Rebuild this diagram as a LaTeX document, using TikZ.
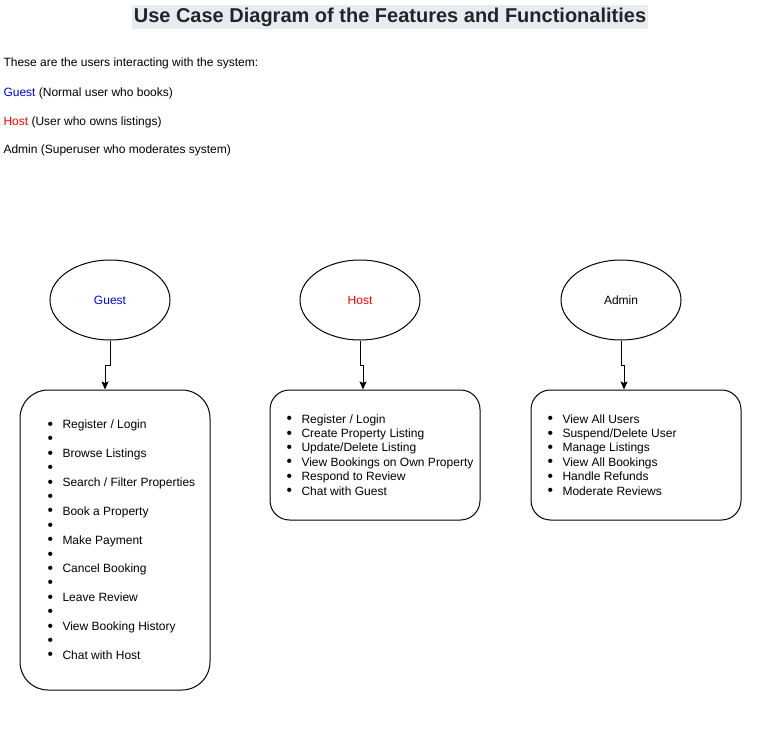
\documentclass[tikz,border=0pt]{standalone}
\usepackage{fontspec}
\setmainfont{Liberation Sans}
\usepackage{graphicx}
\usepackage{tikz}
\usetikzlibrary{shapes.geometric, arrows, arrows.meta, positioning, calc}
\definecolor{ucblue}{RGB}{0,0,255}
\definecolor{ucred}{RGB}{255,0,0}
\definecolor{uctitlebg}{RGB}{233,236,239}
\definecolor{uctitle}{RGB}{33,37,41}
\newcommand{\ucfont}{\fontsize{12}{14.4}\selectfont}
\newcommand{\ucbullet}{\raisebox{-0.6pt}{\scalebox{1.3}{\textbullet}}}
\newcommand{\ucitem}[1]{\makebox[15pt][l]{\ucbullet}#1}

\begin{document}
\begin{tikzpicture}[x=1pt, y=-1pt, line width=1pt,
  actor/.style={draw, ellipse, minimum width=120, minimum height=80, inner sep=0pt, font=\ucfont},
  featurebox/.style={draw, rectangle, rounded corners=#1},
  featurelist/.style={align=left, inner sep=0pt, font=\ucfont},
  note/.style={anchor=base west, inner sep=0pt, font=\ucfont},
  link/.style={-{Stealth[length=8pt, width=7pt, inset=1.5pt]}}]
\useasboundingbox[fill=white] (0,0) rectangle (760,746);

% Title
\node[fill=uctitlebg, text=uctitle, font=\fontsize{20}{24}\selectfont\bfseries, inner xsep=2pt, inner ysep=2.5pt] (title) at (390,17) {Use Case Diagram of the Features and Functionalities};

% Users
\node[note] (intro) at (3,67) {These are the users interacting with the system:};
\node[note] (guestnote) at (3,97) {\textcolor{ucblue}{Guest} (Normal user who books)};
\node[note] (hostnote) at (3,126) {\textcolor{ucred}{Host} (User who owns listings)};
\node[note] (adminnote) at (3,154) {Admin (Superuser who moderates system)};

% Actors
\node[actor, text=ucblue] (guest) at (110,300) {Guest};
\node[actor, text=ucred] (host) at (360,300) {Host};
\node[actor] (admin) at (621,300) {Admin};

% Feature boxes
\node[featurebox=28, minimum width=190, minimum height=300] (guestbox) at (115,540) {};
\node[featurebox=19.5, minimum width=210, minimum height=130] (hostbox) at (375,455) {};
\node[featurebox=19.5, minimum width=210, minimum height=130] (adminbox) at (636,455) {};

% Feature lists
\node[featurelist, right=27.5pt of guestbox.west] (guestlist) {%
  \ucitem{Register / Login}\\ \ucbullet\\
  \ucitem{Browse Listings}\\ \ucbullet\\
  \ucitem{Search / Filter Properties}\\ \ucbullet\\
  \ucitem{Book a Property}\\ \ucbullet\\
  \ucitem{Make Payment}\\ \ucbullet\\
  \ucitem{Cancel Booking}\\ \ucbullet\\
  \ucitem{Leave Review}\\ \ucbullet\\
  \ucitem{View Booking History}\\ \ucbullet\\
  \ucitem{Chat with Host}};
\node[featurelist, right=16.5pt of hostbox.west] (hostlist) {%
  \ucitem{Register / Login}\\
  \ucitem{Create Property Listing}\\
  \ucitem{Update/Delete Listing}\\
  \ucitem{View Bookings on Own Property}\\
  \ucitem{Respond to Review}\\
  \ucitem{Chat with Guest}};
\node[featurelist, right=16.5pt of adminbox.west] (adminlist) {%
  \ucitem{View All Users}\\
  \ucitem{Suspend/Delete User}\\
  \ucitem{Manage Listings}\\
  \ucitem{View All Bookings}\\
  \ucitem{Handle Refunds}\\
  \ucitem{Moderate Reviews}};

% Connectors
\draw[link] (guest.south) -- ++(0,25) -| ([xshift=-10pt]guestbox.north);
\draw[link] (host.south) -- ++(0,25) -| ([xshift=-12pt]hostbox.north);
\draw[link] (admin.south) -- ++(0,25) -| ([xshift=-12pt]adminbox.north);
\end{tikzpicture}
\end{document}
